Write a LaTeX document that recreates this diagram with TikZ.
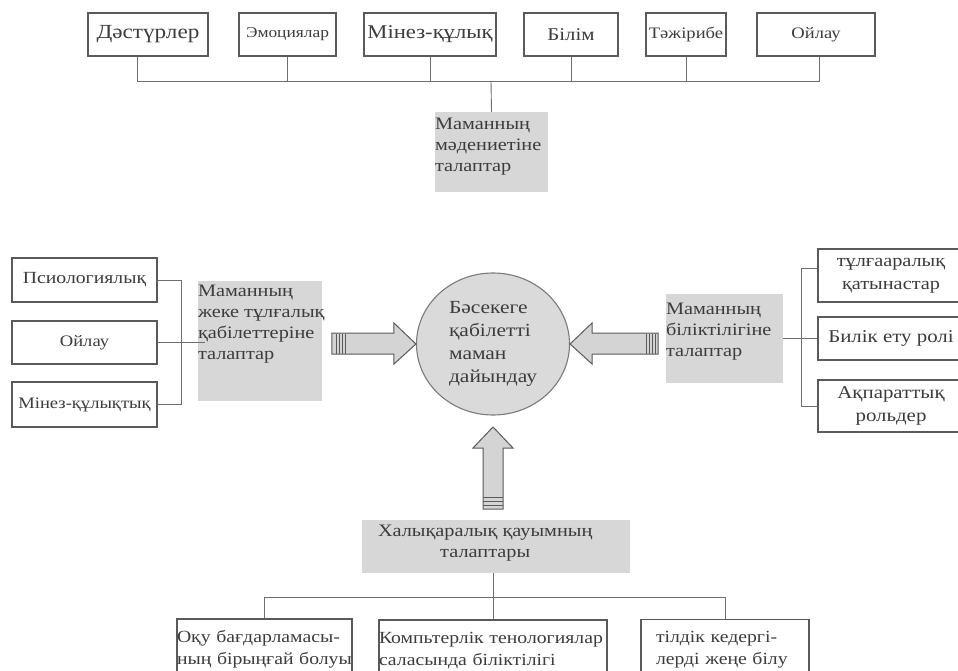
\documentclass[tikz,border=0pt]{standalone}
\usepackage{fontspec}
\setmainfont{Liberation Serif}[FakeStretch=1.16]
\usetikzlibrary{shapes.geometric}

\definecolor{boxline}{HTML}{5A5A5A}
\definecolor{wirecol}{HTML}{6E6E6E}
\definecolor{shade}{HTML}{D7D7D7}
\definecolor{ink}{HTML}{3C3C3C}
\definecolor{arrowfill}{HTML}{D4D4D4}
\definecolor{corefill}{HTML}{DADADA}

\begin{document}
\begin{tikzpicture}[x=1pt,y=-1pt,
  box/.style={draw=boxline, line width=1.1pt, inner sep=0pt, text=ink, align=center, font=\fontsize{17}{21}\selectfont},
  shadebox/.style={fill=shade, inner sep=0pt},
  shadetext/.style={anchor=north west, inner sep=0pt, text=ink, align=left, font=\fontsize{17.5}{21}\selectfont},
  wire/.style={draw=wirecol, line width=0.9pt},
  blockarrow/.style={fill=arrowfill, draw=boxline, line width=1pt, line join=miter},
  stripe/.style={draw=boxline, line width=0.7pt}]
\clip (0,0) rectangle (958,671);
\fill[white] (0,0) rectangle (958,671);

\node[box, minimum width=120pt, minimum height=43pt, font=\fontsize{20}{24}\selectfont] (dast) at (148,34.5) {Дәстүрлер};
\node[box, minimum width=97pt, minimum height=43pt, font=\fontsize{15}{18}\selectfont] (emo) at (287.5,34.5) {Эмоциялар};
\node[box, minimum width=132pt, minimum height=43pt, font=\fontsize{19.5}{24}\selectfont] (mkl) at (430,34.5) {Мінез-құлық};
\node[box, minimum width=94pt, minimum height=43pt, font=\fontsize{18}{22}\selectfont] (bil) at (571,34.5) {Білім};
\node[box, minimum width=80pt, minimum height=43pt, font=\fontsize{16}{20}\selectfont] (taj) at (686,34.5) {Тәжірибе};
\node[box, minimum width=118pt, minimum height=43pt, font=\fontsize{16}{20}\selectfont] (oyl) at (816,34.5) {Ойлау};

\coordinate (topbus) at (491,81);
\node[shadebox, minimum width=113pt, minimum height=80pt] (mad) at (491.5,152) {};
\node[shadetext] (madtxt) at ([yshift=-6pt]mad.north west) {Маманның\\мәдениетіне\\талаптар};
\draw[wire] ([xshift=-11pt]dast.south) -- ([xshift=-11pt]dast.south |- topbus) -- ([xshift=3pt]oyl.south |- topbus) -- ([xshift=3pt]oyl.south);
\foreach \n in {emo,mkl,bil,taj}
  \draw[wire] (\n.south) -- (\n.south |- topbus);
\draw[wire] (topbus) -- (mad.north);

\node[box, minimum width=145pt, minimum height=44pt] (psi) at (84.5,280) {Псиологиялық};
\node[box, minimum width=145pt, minimum height=43pt, font=\fontsize{16}{20}\selectfont] (oylau) at (84.5,342.5) {Ойлау};
\node[box, minimum width=145pt, minimum height=45pt, font=\fontsize{16}{20}\selectfont] (minez) at (84.5,404.5) {Мінез-құлықтық};
\node[shadebox, minimum width=124pt, minimum height=120pt] (jeke) at (260,341) {};
\node[shadetext] (jeketxt) at ([yshift=-4pt]jeke.north west) {Маманның\\жеке тұлғалық\\қабілеттеріне\\талаптар};
\draw[wire] (psi.east) -- ++(24,0) |- (minez.east);
\draw[wire] (oylau.east) -- ([xshift=7pt]oylau.east -| jeke.west);

\node[ellipse, draw=boxline!80, fill=corefill, line width=1.1pt, minimum width=153pt, minimum height=142pt,
  inner sep=0pt, text=ink, align=left, font=\fontsize{18.5}{23}\selectfont] (core) at (493,344)
  {Бәсекеге\\қабілетті\\маман\\дайындау};

\draw[blockarrow] (core.west) -- ++(-22,-21) -- ++(0,10) -- ++(-62,0) -- ++(0,21) -- ++(62,0) -- ++(0,10) -- cycle;
\foreach \s in {336,339,342,345}
  \draw[stripe] (\s,334) -- (\s,354);
\draw[blockarrow] (core.east) -- ++(22,-21) -- ++(0,10) -- ++(66,0) -- ++(0,21) -- ++(-66,0) -- ++(0,10) -- cycle;
\foreach \s in {646,649,652,655}
  \draw[stripe] (\s,334) -- (\s,354);
\draw[blockarrow] (493,427) -- (513,448) -- (503,448) -- (503,509) -- (483,509) -- (483,448) -- (473,448) -- cycle;
\foreach \s in {497,501,505}
  \draw[stripe] (483,\s) -- (503,\s);

\node[shadebox, minimum width=117pt, minimum height=89pt] (bilik) at (724.5,338.5) {};
\node[shadetext] (biliktxt) at ([yshift=-9pt]bilik.north west) {Маманның\\біліктілігіне\\талаптар};
\node[box, minimum width=146pt, minimum height=53pt, font=\fontsize{17.5}{23}\selectfont] (tul) at (891,275.5) {тұлғааралық\\қатынастар};
\node[box, minimum width=146pt, minimum height=43pt, font=\fontsize{18}{22}\selectfont] (bilet) at (891,338.5) {Билік ету ролі};
\node[box, minimum width=146pt, minimum height=52pt, font=\fontsize{18}{23}\selectfont] (aqp) at (891,406) {Ақпараттық\\рольдер};
\draw[wire] ([yshift=7pt]tul.west) -- ++(-16,0) |- (aqp.west);
\draw[wire] (bilik.east) -- (bilet.west);

\node[shadebox, minimum width=268pt, minimum height=53pt] (xal) at (496,546.5) {};
\node[shadetext, align=center] (xaltxt) at ([xshift=16pt,yshift=-5pt]xal.north west) {Халықаралық қауымның\\талаптары};
\coordinate (botbus) at (493,597);
\node[box, text width=175pt, minimum height=61pt, align=left, font=\fontsize{17}{22}\selectfont] (oku) at (264.5,649.5) {Оқу бағдарламасы-\\ның бірыңғай болуы};
\node[box, text width=228pt, minimum height=61pt, align=left, font=\fontsize{17}{22}\selectfont] (komp) at (493,650.5) {Компьтерлік тенологиялар\\саласында біліктілігі};
\node[box, text width=138pt, inner xsep=15pt, minimum height=61pt, align=left, font=\fontsize{17}{22}\selectfont] (til) at (725,650) {тілдік кедергі-\\лерді жеңе білу};
\draw[wire] (komp.north |- xal.south) -- (komp.north);
\draw[wire] (oku.north) -- (oku.north |- botbus) -- (til.north |- botbus) -- (til.north);
\end{tikzpicture}
\end{document}
